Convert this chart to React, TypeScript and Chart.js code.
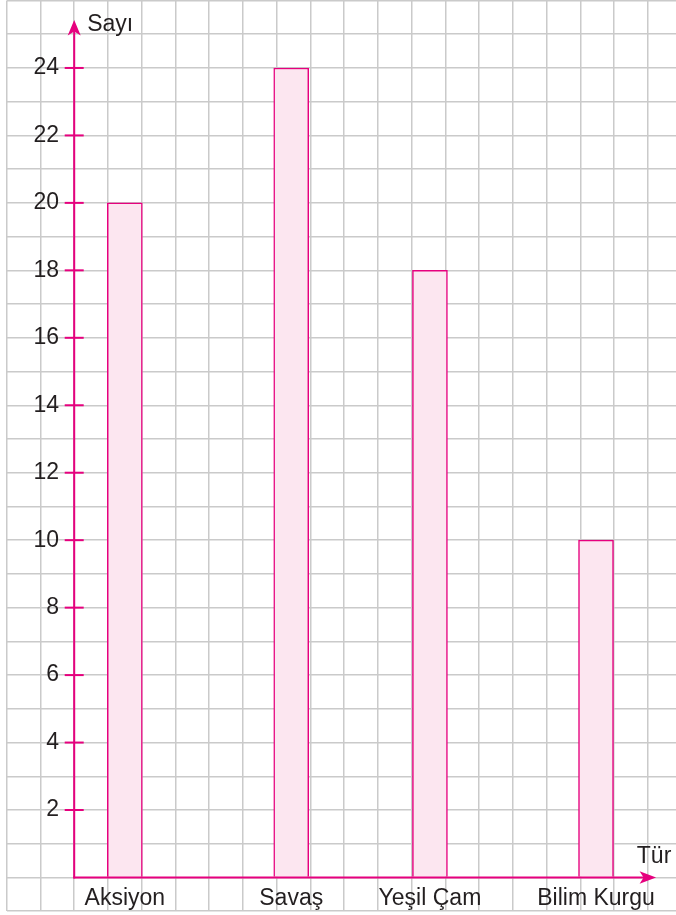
import React, { useEffect, useRef } from 'react';
import { Chart, registerables } from 'chart.js';

Chart.register(...registerables);

// ---- data ----
const categories = ['Aksiyon', 'Savaş', 'Yeşil Çam', 'Bilim Kurgu'];
const counts = [20, 24, 18, 10];
// where each category sits along the squared-paper x axis (in grid cells)
const categorySlots = [1.5, 6.43, 10.54, 15.46];
const yTickLabels = [2, 4, 6, 8, 10, 12, 14, 16, 18, 20, 22, 24];
const yAxisTitle = 'Sayı';
const xAxisTitle = 'Tür';

// ---- style ----
const FONT = "'Liberation Sans', Arial, Helvetica, sans-serif";
const MAGENTA = '#e6007e';
const BAR_FILL = '#fce6f0';
const GRID = '#cacaca';
const TEXT = '#231f20';

const X_MIN = -2;
const X_MAX = 17.83;
const Y_MIN = -1;
const Y_MAX = 26;
const X_ARROW_TIP = 17.24;
const Y_ARROW_TIP = 25.42;

const zeroPad = (s: any) => {
  s.paddingLeft = 0;
  s.paddingRight = 0;
  s.paddingTop = 0;
  s.paddingBottom = 0;
};

// keep the label scales spanning exactly the chart area and the grid range
const alignLabelScales = {
  id: 'alignLabelScales',
  afterLayout(chart: any) {
    const a = chart.chartArea;
    const xl = chart.scales.xl;
    const yl = chart.scales.yl;
    if (xl) {
      xl.left = a.left;
      xl.right = a.right;
      xl.width = a.right - a.left;
      xl.min = X_MIN;
      xl.max = X_MAX;
      xl.configure();
    }
    if (yl) {
      yl.top = a.top;
      yl.bottom = a.bottom;
      yl.height = a.bottom - a.top;
      yl.min = Y_MIN;
      yl.max = Y_MAX;
      yl.configure();
    }
  },
};

const axesPlugin = {
  id: 'axesPlugin',
  afterDraw(chart: any) {
    const ctx = chart.ctx;
    const xs = chart.scales.x;
    const ys = chart.scales.y;
    const x0 = xs.getPixelForValue(0);
    const y0 = ys.getPixelForValue(0);
    const yt = ys.getPixelForValue(Y_ARROW_TIP);
    const xt = xs.getPixelForValue(X_ARROW_TIP);
    ctx.save();
    ctx.strokeStyle = MAGENTA;
    ctx.fillStyle = MAGENTA;
    ctx.lineWidth = 2;
    // y axis
    ctx.beginPath();
    ctx.moveTo(x0, y0 + 1);
    ctx.lineTo(x0, yt + 10);
    ctx.stroke();
    ctx.beginPath();
    ctx.moveTo(x0, yt);
    ctx.lineTo(x0 - 6.5, yt + 15.5);
    ctx.lineTo(x0, yt + 11.5);
    ctx.lineTo(x0 + 6.5, yt + 15.5);
    ctx.closePath();
    ctx.fill();
    // x axis
    ctx.beginPath();
    ctx.moveTo(x0 - 1, y0);
    ctx.lineTo(xt - 10, y0);
    ctx.stroke();
    ctx.beginPath();
    ctx.moveTo(xt, y0);
    ctx.lineTo(xt - 16.5, y0 - 6.3);
    ctx.lineTo(xt - 12.5, y0);
    ctx.lineTo(xt - 16.5, y0 + 6.3);
    ctx.closePath();
    ctx.fill();
    // tick crosses on y axis
    ctx.lineWidth = 2;
    yTickLabels.forEach((v) => {
      const py = ys.getPixelForValue(v);
      ctx.beginPath();
      ctx.moveTo(x0 - 9.5, py);
      ctx.lineTo(x0 + 9.5, py);
      ctx.stroke();
    });
    // axis titles
    ctx.fillStyle = TEXT;
    ctx.font = `23px ${FONT}`;
    ctx.textBaseline = 'alphabetic';
    ctx.textAlign = 'left';
    ctx.fillText(yAxisTitle, x0 + 13, yt + 10.7);
    ctx.fillText(xAxisTitle, xt - 19.3, y0 - 14.2);
    ctx.restore();
  },
};

export default function App() {
  const ref = useRef<HTMLCanvasElement | null>(null);

  useEffect(() => {
    if (!ref.current) return;
    const chart = new Chart(ref.current, {
      type: 'bar',
      data: {
        datasets: [
          {
            data: categorySlots.map((x, i) => ({ x, y: counts[i] })),
            backgroundColor: BAR_FILL,
            borderColor: MAGENTA,
            borderWidth: 1.5,
            barThickness: 35,
            xAxisID: 'x',
            yAxisID: 'y',
          } as any,
        ],
      },
      options: {
        responsive: false,
        animation: false,
        devicePixelRatio: 1,
        layout: { padding: { left: 6.7, top: 0.5, right: 0, bottom: 3.8 } },
        plugins: {
          legend: { display: false },
          tooltip: { enabled: false },
          title: { display: false },
        },
        scales: {
          x: {
            type: 'linear',
            min: X_MIN,
            max: X_MAX,
            offset: false,
            position: 'bottom',
            grid: { offset: false, color: GRID, lineWidth: 1.5, drawTicks: false },
            border: { display: false },
            ticks: { display: false, stepSize: 1, includeBounds: false },
            afterFit: zeroPad,
          },
          y: {
            type: 'linear',
            min: Y_MIN,
            max: Y_MAX,
            position: 'left',
            grid: { color: GRID, lineWidth: 1.5, drawTicks: false },
            border: { display: false },
            ticks: { display: false, stepSize: 1 },
            afterFit: zeroPad,
          },
          xl: {
            type: 'linear',
            axis: 'x',
            min: X_MIN,
            max: X_MAX,
            bounds: 'data',
            offset: false,
            position: { y: 0 },
            grid: { display: false, drawTicks: false, offset: false },
            border: { display: false },
            ticks: {
              autoSkip: false,
              maxRotation: 0,
              padding: 7,
              stepSize: 1,
              color: TEXT,
              font: { family: FONT, size: 23 },
              callback: (_v: any, i: number) => categories[i] ?? '',
            },
            afterBuildTicks: (s: any) => {
              s.ticks = categorySlots.map((v) => ({ value: v }));
              s.min = X_MIN;
              s.max = X_MAX;
            },
            afterFit: zeroPad,
          },
          yl: {
            type: 'linear',
            axis: 'y',
            min: Y_MIN,
            max: Y_MAX,
            bounds: 'data',
            position: { x: -0.45 },
            grid: { display: false, drawTicks: false },
            border: { display: false },
            ticks: {
              autoSkip: false,
              padding: 0,
              stepSize: 1,
              color: TEXT,
              font: { family: FONT, size: 23 },
              callback: (v: any) => String(v),
            },
            afterBuildTicks: (s: any) => {
              s.ticks = yTickLabels.map((v) => ({ value: v }));
              s.min = Y_MIN;
              s.max = Y_MAX;
            },
            afterFit: zeroPad,
          },
        } as any,
      },
      plugins: [alignLabelScales, axesPlugin],
    });
    return () => chart.destroy();
  }, []);

  return (
    <div style={{ position: 'absolute', left: 0, top: 0, width: 676, height: 915, background: '#fff' }}>
      <canvas ref={ref} width={676} height={915} style={{ display: 'block' }} />
    </div>
  );
}
